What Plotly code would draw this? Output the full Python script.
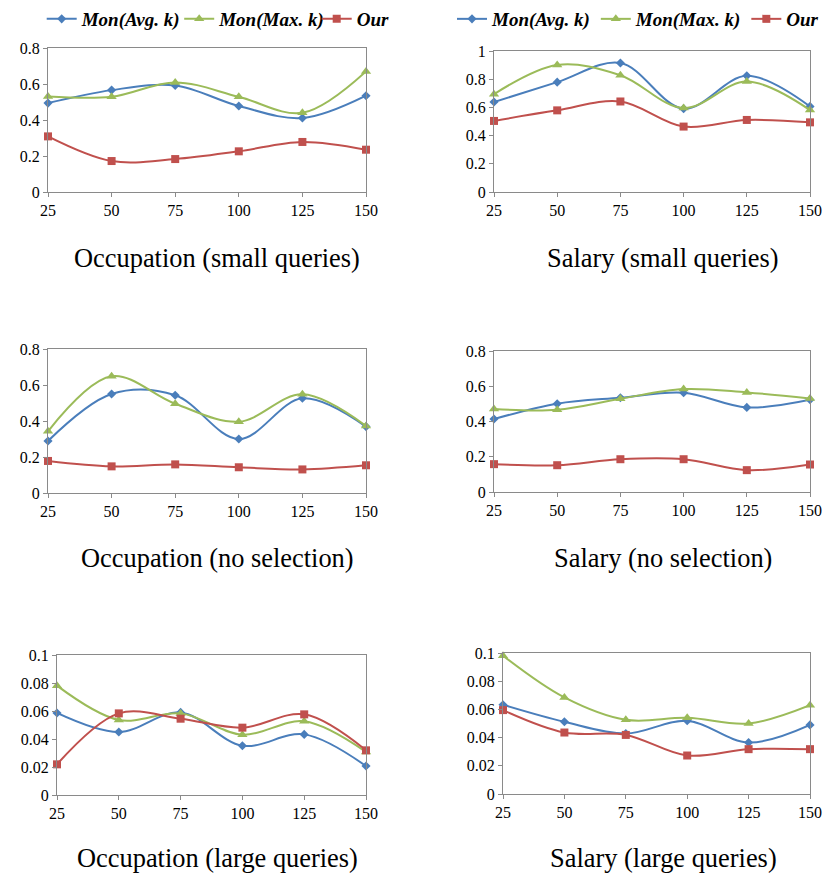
import plotly.graph_objects as go

W, H = 824, 877

x_vals = [25, 50, 75, 100, 125, 150]
series_names = ["Mon(Avg. k)", "Mon(Max. k)", "Our"]

# Occupation (small queries)
occ_small_avg = [0.494, 0.566, 0.592, 0.478, 0.411, 0.535]
occ_small_max = [0.531, 0.529, 0.609, 0.529, 0.440, 0.670]
occ_small_our = [0.309, 0.172, 0.183, 0.226, 0.278, 0.235]

# Salary (small queries)
sal_small_avg = [0.638, 0.779, 0.915, 0.591, 0.824, 0.607]
sal_small_max = [0.694, 0.901, 0.828, 0.595, 0.784, 0.581]
sal_small_our = [0.504, 0.579, 0.642, 0.464, 0.511, 0.494]

# Occupation (no selection)
occ_nosel_avg = [0.289, 0.550, 0.543, 0.300, 0.526, 0.369]
occ_nosel_max = [0.343, 0.648, 0.496, 0.396, 0.548, 0.372]
occ_nosel_our = [0.178, 0.148, 0.159, 0.143, 0.131, 0.154]

# Salary (no selection)
sal_nosel_avg = [0.414, 0.501, 0.535, 0.563, 0.480, 0.523]
sal_nosel_max = [0.471, 0.467, 0.529, 0.584, 0.565, 0.531]
sal_nosel_our = [0.158, 0.152, 0.186, 0.186, 0.124, 0.156]

# Occupation (large queries)
occ_large_avg = [0.0586, 0.0450, 0.0590, 0.0352, 0.0433, 0.0207]
occ_large_max = [0.0781, 0.0536, 0.0583, 0.0431, 0.0526, 0.0307]
occ_large_our = [0.0219, 0.0583, 0.0545, 0.0481, 0.0576, 0.0319]

# Salary (large queries)
sal_large_avg = [0.0633, 0.0512, 0.0429, 0.0519, 0.0365, 0.0490]
sal_large_max = [0.0981, 0.0685, 0.0526, 0.0540, 0.0500, 0.0630]
sal_large_our = [0.0595, 0.0436, 0.0419, 0.0273, 0.0318, 0.0318]

titles = [
    "Occupation (small queries)", "Salary (small queries)",
    "Occupation (no selection)", "Salary (no selection)",
    "Occupation (large queries)", "Salary (large queries)",
]
y_max = [0.8, 1.0, 0.8, 0.8, 0.1, 0.1]
y_dtick = [0.2, 0.2, 0.2, 0.2, 0.02, 0.02]

panels = [
    (occ_small_avg, occ_small_max, occ_small_our),
    (sal_small_avg, sal_small_max, sal_small_our),
    (occ_nosel_avg, occ_nosel_max, occ_nosel_our),
    (sal_nosel_avg, sal_nosel_max, sal_nosel_our),
    (occ_large_avg, occ_large_max, occ_large_our),
    (sal_large_avg, sal_large_max, sal_large_our),
]

colors = ["#4A7EBB", "#9BBB59", "#C0504D"]
symbols = ["diamond", "triangle-up", "square"]
msizes = [7, 9, 8]

# plot-area boxes in pixels: (x0, x1, ytop, ybottom)
boxes = [
    (48, 366, 48, 192),
    (494, 810, 51, 192),
    (48, 366, 349, 493),
    (494, 810, 351, 492),
    (57, 366, 655, 795),
    (503, 810, 653, 794),
]
title_pos = [(217, 258), (663, 258), (217, 558), (663, 558), (217, 858), (663, 858)]

SERIF = "Liberation Serif"

fig = go.Figure()
AXCOL = "#8a8a8a"
tickfont = dict(family=SERIF, size=16, color="black")

for i, (series, box) in enumerate(zip(panels, boxes)):
    n = i + 1
    xa = "x" if n == 1 else f"x{n}"
    ya = "y" if n == 1 else f"y{n}"
    x0, x1, yt, yb = box
    for j, vals in enumerate(series):
        fig.add_trace(go.Scatter(
            x=x_vals, y=vals, xaxis=xa, yaxis=ya,
            mode="lines+markers", name=series_names[j],
            line=dict(color=colors[j], width=2, shape="spline", smoothing=1.0),
            marker=dict(color=colors[j], symbol=symbols[j], size=msizes[j]),
            cliponaxis=False,
            showlegend=(n in (1, 2)),
            legend="legend" if n == 1 else "legend2",
        ))
    xkey = "xaxis" if n == 1 else f"xaxis{n}"
    ykey = "yaxis" if n == 1 else f"yaxis{n}"
    fig.update_layout(**{
        xkey: dict(
            domain=[x0 / W, x1 / W], anchor=ya, range=[25, 150],
            tickvals=x_vals, ticks="outside", ticklen=4, tickcolor=AXCOL,
            showline=True, linecolor=AXCOL, linewidth=1, mirror=True,
            showgrid=False, zeroline=False, tickfont=tickfont, automargin=False,
        ),
        ykey: dict(
            domain=[1 - yb / H, 1 - yt / H], anchor=xa, range=[0, y_max[i]],
            dtick=y_dtick[i], tick0=0, ticks="outside", ticklen=4, tickcolor=AXCOL,
            showline=True, linecolor=AXCOL, linewidth=1, mirror=True,
            showgrid=False, zeroline=False, tickfont=tickfont, automargin=False,
        ),
    })
    tx, ty = title_pos[i]
    fig.add_annotation(
        text=titles[i], xref="paper", yref="paper", x=tx / W, y=1 - ty / H,
        xanchor="center", yanchor="middle", showarrow=False,
        font=dict(family=SERIF, size=26.4, color="black"),
    )

legfont = dict(family=SERIF, size=19, color="black", style="italic", weight="bold")
fig.update_layout(
    width=W, height=H,
    margin=dict(l=0, r=0, t=0, b=0, pad=0),
    paper_bgcolor="white", plot_bgcolor="white",
    legend=dict(orientation="h", x=41.7 / W, y=1, xanchor="left", yanchor="top",
                font=legfont, itemwidth=30, tracegroupgap=0, entrywidth=92.5,
                bgcolor="rgba(0,0,0,0)"),
    legend2=dict(orientation="h", x=1, y=1, xanchor="right", yanchor="top",
                 font=legfont, itemwidth=30, tracegroupgap=0,
                 bgcolor="rgba(0,0,0,0)"),
)

fig.write_html(
    "out.html",
    config={"displayModeBar": False},
    post_script="document.body.style.margin='0';document.body.style.overflow='hidden';",
)
